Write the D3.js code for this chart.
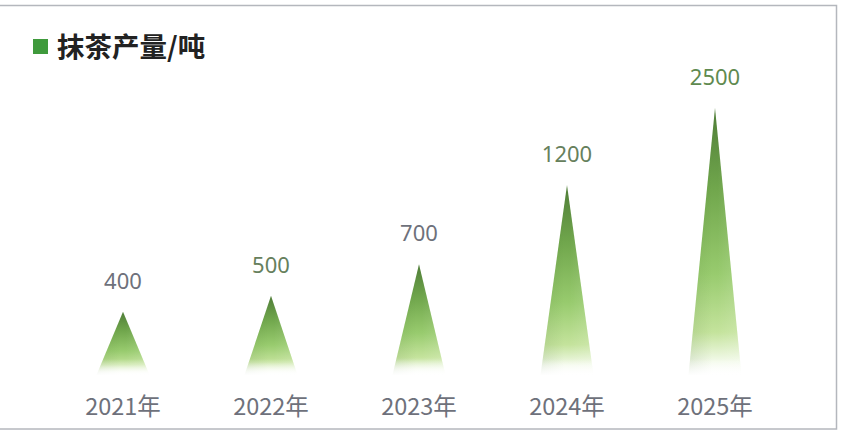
<!DOCTYPE html>
<html><head><meta charset="utf-8">
<script src="https://cdn.jsdelivr.net/npm/d3@7"></script>
<style>
html,body{margin:0;padding:0;background:#fff;}
svg{display:block;}
</style></head>
<body>
<svg id="chart" width="854" height="431"></svg>
<script>
const categories = ["2021年","2022年","2023年","2024年","2025年"];
const values = [400, 500, 700, 1200, 2500];
const seriesName = "抹茶产量/吨";
const labelColors = ["#6e717b","#66805c","#6e717b","#66805c","#5f8a4f"];

const svg = d3.select("#chart");

// card border
svg.append("rect").attr("x",-2).attr("y",5.5).attr("width",838.5).attr("height",423.5)
  .attr("fill","#fff").attr("stroke","#b4b7bd").attr("stroke-width",1.5);

const x = d3.scaleBand().domain(categories).range([49, 789]).padding(0);
// bars are not strictly proportional in the reference: piecewise linear scale
const y = d3.scaleLinear().domain([0, 1200, 2500]).range([375, 185, 108]);
const barW = 53;

const defs = svg.append("defs");
const g1 = defs.append("linearGradient").attr("id","gv").attr("x1",0).attr("y1",0).attr("x2",0).attr("y2",1);
[["0%","#4f7d38"],["30%","#70a64c"],["62%","#98cb6e"],["84%","#c4e39c"],["95%","#f3faea"],["100%","#ffffff"]]
  .forEach(([o,c]) => g1.append("stop").attr("offset",o).attr("stop-color",c));
const g2 = defs.append("linearGradient").attr("id","gh").attr("x1",0).attr("y1",0).attr("x2",1).attr("y2",0);
[["0%","#1f4a10",0.10],["45%","#1f4a10",0.0],["55%","#ffffff",0.0],["100%","#ffffff",0.14]]
  .forEach(([o,c,a]) => g2.append("stop").attr("offset",o).attr("stop-color",c).attr("stop-opacity",a));

const tri = (d,i) => {
  const cx = x(categories[i]) + x.bandwidth()/2;
  return `M${cx-barW/2},${y(0)}L${cx},${y(d)}L${cx+barW/2},${y(0)}Z`;
};
const bars = svg.append("g");
bars.selectAll("path.b").data(values).join("path").attr("class","b").attr("d",tri).attr("fill","url(#gv)");
bars.selectAll("path.h").data(values).join("path").attr("class","h").attr("d",tri).attr("fill","url(#gh)");
// bottom fade band (fixed height, like the reference's soft base)
svg.append("defs").append("linearGradient").attr("id","gb").attr("x1",0).attr("y1",0).attr("x2",0).attr("y2",1)
  .selectAll("stop").data([["0%",0],["100%",1]]).join("stop")
  .attr("offset",d=>d[0]).attr("stop-color","#fff").attr("stop-opacity",d=>d[1]);
bars.selectAll("rect.fade").data(values).join("rect").attr("class","fade")
  .attr("x",(d,i)=>x(categories[i]) + x.bandwidth()/2 - barW/2 - 1)
  .attr("y",y(0)-16).attr("width",barW+2).attr("height",17)
  .attr("fill","url(#gb)");

// value labels
svg.append("g").selectAll("text").data(values).join("text")
  .attr("x",(d,i)=>x(categories[i]) + x.bandwidth()/2)
  .attr("y",d=>y(d) - 23)
  .attr("text-anchor","middle")
  .attr("font-family","'Noto Sans','Noto Sans CJK SC',sans-serif")
  .attr("font-size",22)
  .attr("fill",(d,i)=>labelColors[i])
  .text(d=>d);

// x axis
const xAxis = d3.axisBottom(x).tickSize(0).tickPadding(0);
const ax = svg.append("g").attr("transform","translate(0,398)").call(xAxis);
ax.select(".domain").remove();
ax.selectAll("text")
  .attr("dy","0.71em")
  .attr("font-family","'Noto Sans CJK SC','Noto Sans',sans-serif")
  .attr("font-size",23.5)
  .attr("fill","#6e717b");

// legend / title
svg.append("rect").attr("x",33).attr("y",39).attr("width",15).attr("height",15).attr("fill","#3f9a3c");
svg.append("text").attr("x",57).attr("y",57)
  .attr("font-family","'Noto Sans CJK SC',sans-serif")
  .attr("font-weight","bold").attr("font-size",27.5).attr("fill","#222")
  .text(seriesName);
</script>
</body></html>
